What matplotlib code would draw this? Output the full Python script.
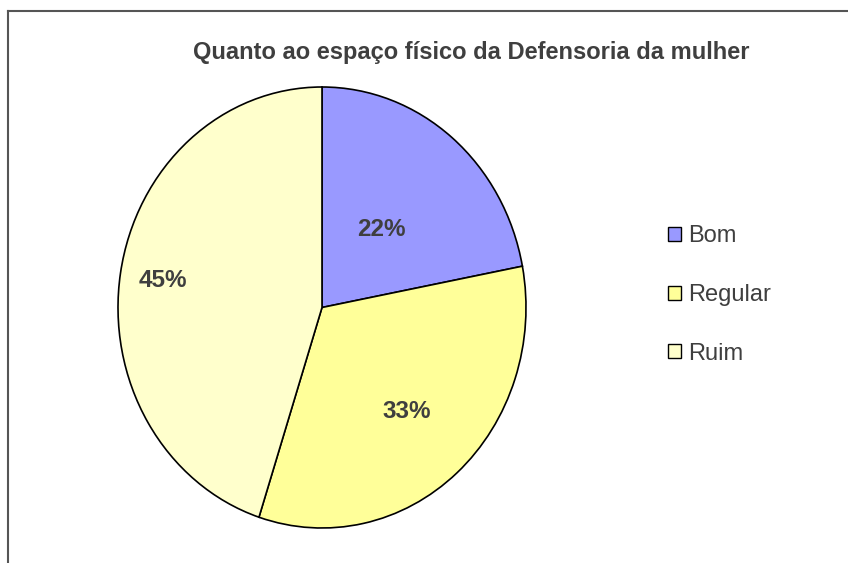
import numpy as np
import matplotlib
matplotlib.use("Agg")
import matplotlib.pyplot as plt
from matplotlib.lines import Line2D
from matplotlib.patches import Patch

plt.rcParams['font.family'] = ['Liberation Sans', 'DejaVu Sans']

categorias = ["Bom", "Regular", "Ruim"]
valores = [22, 33, 45]
cores = ["#9999FF", "#FFFF99", "#FFFFCC"]
dist_rotulos = [0.46, 0.63, 0.79]
titulo = "Quanto ao espaço físico da Defensoria da mulher"
cor_texto = "#3f3f3f"

fig = plt.figure(figsize=(8.48, 5.63), dpi=100)

# moldura (só topo e esquerda aparecem)
fig.add_artist(Line2D([8/848, 1], [1 - 11/563] * 2, color="#555555", lw=1.5))
fig.add_artist(Line2D([8/848] * 2, [0, 1 - 11/563], color="#555555", lw=1.5))

ax = fig.add_axes([118/848, 35/563, 408/848, 441/563])
wedges, _ = ax.pie(valores, colors=cores, startangle=90, counterclock=False,
                   wedgeprops=dict(edgecolor="black", linewidth=1.2))
ax.set_aspect("auto")
ax.set_xlim(-1, 1)
ax.set_ylim(-1, 1)

total = sum(valores)
acum = 0
for v, r in zip(valores, dist_rotulos):
    meio = np.deg2rad(90 - (acum + v / 2) / total * 360)
    acum += v
    ax.text(r * np.cos(meio), r * np.sin(meio), f"{v/total*100:.0f}%",
            ha="center", va="center", fontsize=17.5, fontweight="bold", color=cor_texto)

fig.text(471/848, 1 - 52/563, titulo, ha="center", va="center",
         fontsize=17, fontweight="bold", color=cor_texto)

handles = [Patch(facecolor=c, edgecolor="black", linewidth=1) for c in cores]
fig.legend(handles, categorias, loc="center left", bbox_to_anchor=(647/848, 1 - 295/563),
           frameon=False, fontsize=17, labelcolor=cor_texto, handlelength=0.55,
           handleheight=0.55, handletextpad=0.3, labelspacing=1.55)

fig.savefig("out.png", dpi=100)
